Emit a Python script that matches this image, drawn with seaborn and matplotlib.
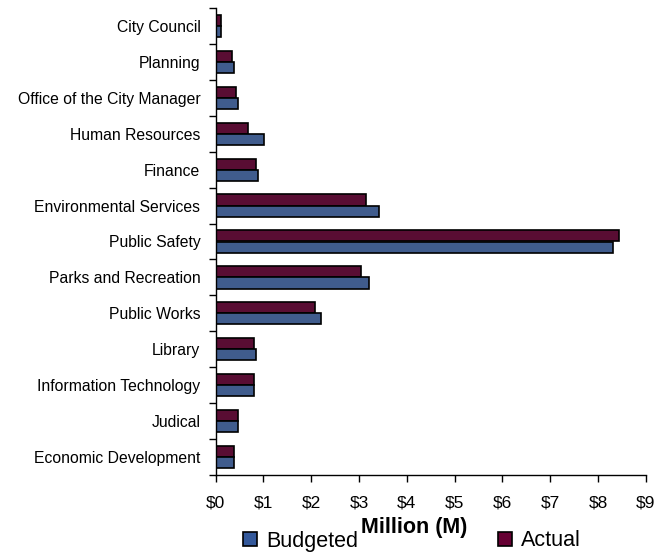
import matplotlib
matplotlib.use("Agg")
import matplotlib.pyplot as plt
from matplotlib.patches import Patch
from matplotlib.ticker import FixedLocator, FuncFormatter
import numpy as np
import pandas as pd
import seaborn as sns

departments = [
    "City Council", "Planning", "Office of the City Manager", "Human Resources",
    "Finance", "Environmental Services", "Public Safety", "Parks and Recreation",
    "Public Works", "Library", "Information Technology", "Judical",
    "Economic Development",
]
budgeted = [0.12, 0.38, 0.47, 1.01, 0.89, 3.42, 8.32, 3.21, 2.20, 0.85, 0.80, 0.47, 0.38]
actual = [0.12, 0.34, 0.42, 0.68, 0.85, 3.14, 8.45, 3.05, 2.08, 0.80, 0.80, 0.47, 0.38]
x_ticks = list(range(0, 10))

series_colors = {"Budgeted": "#33589A", "Actual": "#660033"}

df = pd.DataFrame({
    "Department": departments * 2,
    "Series": ["Actual"] * len(departments) + ["Budgeted"] * len(departments),
    "Value": actual + budgeted,
})

sns.set_style("white")
plt.rcParams["font.family"] = ["Liberation Sans", "DejaVu Sans"]
plt.rcParams["text.color"] = "black"
plt.rcParams["xtick.color"] = "black"
plt.rcParams["ytick.color"] = "black"
plt.rcParams["axes.labelcolor"] = "black"

fig = plt.figure(figsize=(6.58, 5.54), dpi=100)
ax = fig.add_axes([215.7 / 658, 1 - 475 / 554, 430 / 658, 467 / 554])

sns.barplot(
    data=df, y="Department", x="Value", hue="Series",
    order=departments, hue_order=["Actual", "Budgeted"],
    palette=series_colors, orient="h", width=0.62,
    edgecolor="black", linewidth=1.2, ax=ax, legend=False,
)

ax.set_xlim(0, 9)
ax.set_ylim(len(departments) - 0.5, -0.5)
for s in ["top", "right"]:
    ax.spines[s].set_visible(False)
for s in ["left", "bottom"]:
    ax.spines[s].set_color("black")
    ax.spines[s].set_linewidth(1.0)

ax.set_xticks(x_ticks)
ax.xaxis.set_major_formatter(FuncFormatter(lambda v, p: f"${int(v)}"))
ax.tick_params(axis="x", direction="out", length=5, width=1, colors="black",
               labelsize=12.5, pad=10, bottom=True)

ax.yaxis.set_minor_locator(FixedLocator(np.arange(-0.5, len(departments), 1.0)))
ax.tick_params(axis="y", which="major", length=0, labelsize=11.3, pad=11, left=True,
               labelcolor="black")
ax.tick_params(axis="y", which="minor", direction="out", length=5, width=1,
               color="black", left=True)
ax.set_ylabel("")

ax.set_xlabel("Million (M)", fontsize=15.5, fontweight="bold", color="black")
ax.xaxis.label.set_va("center")
ax.xaxis.set_label_coords((414 - 215.7) / 430, -(528 - 475) / 467)

handles = [
    Patch(facecolor=series_colors["Budgeted"], edgecolor="black", linewidth=1.2, label="Budgeted"),
    Patch(facecolor=series_colors["Actual"], edgecolor="black", linewidth=1.2, label="Actual"),
]
fig.legend(handles=handles, loc="center", bbox_to_anchor=(412 / 658, 1 - 541 / 554),
           ncol=2, frameon=False, fontsize=15.5, handlelength=0.65, handleheight=0.65,
           handletextpad=0.4, columnspacing=6.5, borderpad=0)

fig.savefig("out.png", dpi=100)
